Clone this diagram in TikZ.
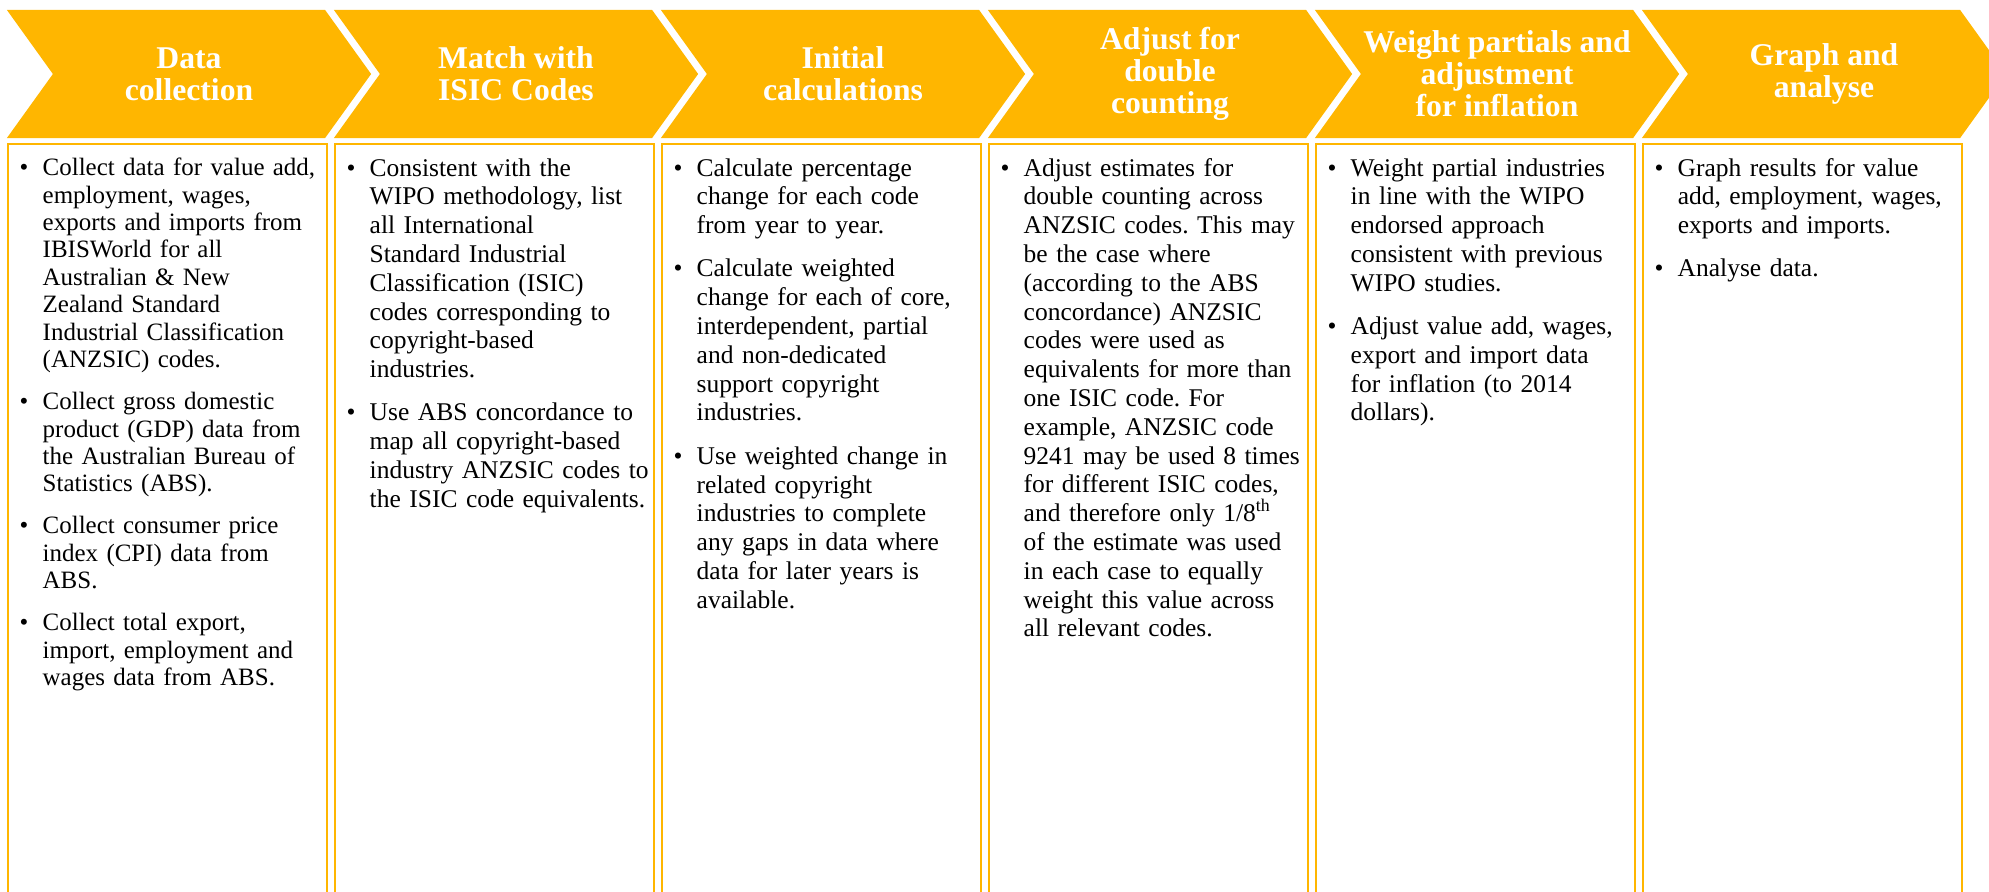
\documentclass[tikz,border=0pt]{standalone}
\usepackage{fontspec}
\setmainfont{Liberation Serif}
\usetikzlibrary{shapes.symbols}

\definecolor{stepgold}{RGB}{255,182,0}

% one bullet point, lines broken by hand
\newcommand{\pitem}[1]{\par\noindent\makebox[0.23cm][l]{\textbullet}%
  \parbox[t]{3cm}{\raggedright\strut #1\strut}\par}

\begin{document}
\frenchspacing
\begin{tikzpicture}[
    x=0.01cm, y=-0.01cm,
    chevron/.style={
        signal,
        signal from=west,
        signal to=east,
        signal pointer angle=108.6,
        fill=stepgold,
        minimum width=3.64cm,
        minimum height=1.28cm,
        inner sep=0pt,
        text=white,
        font=\fontsize{9}{9.1}\selectfont\bfseries,
        align=center
    },
    panel/.style={
        draw=stepgold,
        line width=0.7pt
    },
    points/.style={
        anchor=north west,
        inner sep=0pt,
        text width=3.3cm,
        align=left,
        font=\fontsize{7.25}{8.19}\selectfont,
        execute at begin node={\setlength{\parskip}{0.145cm}\setlength{\lineskip}{0pt}}
    }
]
\useasboundingbox (0,0) rectangle (1989,891);
\clip (0,0) rectangle (1989,891);

% --- Process steps (chevrons) ---
\node[chevron] (collect) at (189,74)  {Data\\collection};
\node[chevron] (match)   at (516,74)  {Match with\\ISIC Codes};
\node[chevron] (initial) at (843,74)  {Initial\\calculations};
\node[chevron] (adjust)  at (1170,74) {Adjust for\\double\\counting};
\node[chevron] (weight)  at (1497,74) {Weight partials and\\adjustment\\for inflation};
\node[chevron] (graph)   at (1824,74) {Graph and\\analyse};

% --- Panels below each step (open at the bottom) ---
\draw[panel] (8,900)    |- (327,144)  -- (327,900);
\draw[panel] (335,900)  |- (654,144)  -- (654,900);
\draw[panel] (662,900)  |- (981,144)  -- (981,900);
\draw[panel] (989,900)  |- (1308,144) -- (1308,900);
\draw[panel] (1316,900) |- (1635,144) -- (1635,900);
\draw[panel] (1643,900) |- (1962,144) -- (1962,900);

% --- Bullet points ---
\node[points, font=\fontsize{7.1}{7.8}\selectfont] (collecttxt) at (19,133) {%
\pitem{Collect data for value add,\\ employment, wages,\\ exports and imports from\\ IBISWorld for all\\ Australian \& New\\ Zealand Standard\\ Industrial Classification\\ (ANZSIC) codes.}
\pitem{Collect gross domestic\\ product (GDP) data from\\ the Australian Bureau of\\ Statistics (ABS).}
\pitem{Collect consumer price\\ index (CPI) data from\\ ABS.}
\pitem{Collect total export,\\ import, employment and\\ wages data from ABS.}};

\node[points] (matchtxt) at (346,132) {%
\pitem{Consistent with the\\ WIPO methodology, list\\ all International\\ Standard Industrial\\ Classification (ISIC)\\ codes corresponding to\\ copyright-based\\ industries.}
\pitem{Use ABS concordance to\\ map all copyright-based\\ industry ANZSIC codes to\\ the ISIC code equivalents.}};

\node[points] (initialtxt) at (673,132) {%
\pitem{Calculate percentage\\ change for each code\\ from year to year.}
\pitem{Calculate weighted\\ change for each of core,\\ interdependent, partial\\ and non-dedicated\\ support copyright\\ industries.}
\pitem{Use weighted change in\\ related copyright\\ industries to complete\\ any gaps in data where\\ data for later years is\\ available.}};

\node[points] (adjusttxt) at (1000,132) {%
\pitem{Adjust estimates for\\ double counting across\\ ANZSIC codes. This may\\ be the case where\\ (according to the ABS\\ concordance) ANZSIC\\ codes were used as\\ equivalents for more than\\ one ISIC code. For\\ example, ANZSIC code\\ 9241 may be used 8 times\\ for different ISIC codes,\\ and therefore only 1/8\textsuperscript{th}\\ of the estimate was used\\ in each case to equally\\ weight this value across\\ all relevant codes.}};

\node[points] (weighttxt) at (1327,132) {%
\pitem{Weight partial industries\\ in line with the WIPO\\ endorsed approach\\ consistent with previous\\ WIPO studies.}
\pitem{Adjust value add, wages,\\ export and import data\\ for inflation (to 2014\\ dollars).}};

\node[points] (graphtxt) at (1654,132) {%
\pitem{Graph results for value\\ add, employment, wages,\\ exports and imports.}
\pitem{Analyse data.}};

\end{tikzpicture}
\end{document}
